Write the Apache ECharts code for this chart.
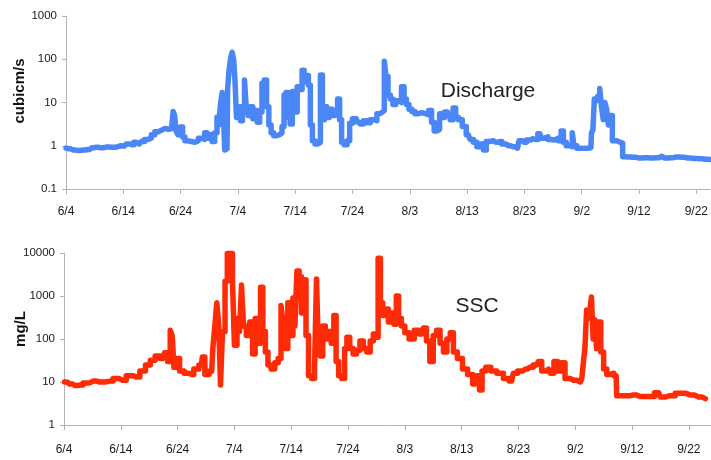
<!DOCTYPE html>
<html>
<head>
<meta charset="utf-8">
<title>Discharge and SSC</title>
<script src="https://cdn.jsdelivr.net/npm/echarts@6/dist/echarts.min.js"></script>
<style>
  html, body { margin: 0; padding: 0; background: #fff; }
  #chart { width: 711px; height: 460px; }
</style>
</head>
<body>
<div id="chart"></div>
<script>
// Date tick labels, one every 10 days starting 6/4 (day 0)
const dateLabels = ['6/4', '6/14', '6/24', '7/4', '7/14', '7/24', '8/3', '8/13', '8/23', '9/2', '9/12', '9/22'];

// Discharge (cubic m/s): day offset from 6/4 and value
const qDays = [
  0.0, 0.5, 1.2, 2.0, 3.0, 3.8, 4.5, 5.2, 6.0, 7.0, 8.0, 9.0, 9.6, 10.2, 10.8, 11.5, 12.2, 12.8, 13.4, 14.0,
  14.6, 15.2, 15.8, 16.4, 17.0, 17.6, 18.2, 18.6, 18.8, 19.1, 19.3, 19.7, 20.2, 20.5, 21.0, 21.6, 22.2, 22.8, 23.4, 24.0,
  24.4, 24.8, 25.3, 25.7, 26.2, 26.5, 26.8, 27.1, 27.4, 27.6, 27.8, 28.1, 28.3, 28.6, 28.9, 29.1, 29.4, 29.6, 29.9, 30.3,
  30.6, 31.0, 31.3, 31.6, 32.0, 32.4, 32.8, 33.2, 33.6, 34.0, 34.4, 34.8, 35.2, 35.6, 36.0, 36.5, 37.0, 37.5, 37.9, 38.2,
  38.6, 38.9, 39.3, 39.7, 40.1, 40.6, 41.0, 41.4, 41.7, 42.1, 42.5, 42.8, 43.2, 43.7, 44.2, 44.6, 44.9, 45.3, 45.7, 46.2,
  46.7, 47.2, 47.6, 47.9, 48.3, 48.8, 49.3, 49.7, 50.3, 51.0, 51.6, 52.2, 52.8, 53.4, 54.0, 54.5, 55.0, 55.4, 55.7, 56.0,
  56.4, 56.8, 57.3, 57.8, 58.3, 58.8, 59.2, 59.6, 60.1, 60.6, 61.2, 61.8, 62.4, 63.0, 63.6, 64.0, 64.5, 65.0, 65.4, 65.8,
  66.3, 66.8, 67.3, 67.8, 68.2, 68.8, 69.5, 70.2, 70.8, 71.4, 72.0, 72.6, 73.1, 73.6, 74.2, 75.0, 75.7, 76.4, 77.2, 78.0,
  78.8, 79.3, 80.0, 80.7, 81.4, 82.0, 82.7, 83.2, 83.8, 84.4, 85.0, 85.6, 86.2, 86.6, 87.0, 87.6, 88.2, 88.5, 88.8, 89.5,
  90.3, 91.0, 91.6, 91.8, 92.1, 92.3, 92.6, 93.0, 93.3, 93.6, 93.9, 94.2, 94.5, 94.8, 95.2, 95.5, 96.0, 96.4, 97.0, 97.3,
  98.0, 99.0, 100.0, 101.0, 102.0, 103.0, 104.0, 104.5, 105.5, 106.5, 107.5, 108.5, 109.5, 110.5, 111.5, 112.4
];
const qValues = [
  0.88, 0.85, 0.80, 0.78, 0.80, 0.82, 0.90, 0.92, 0.90, 0.93, 0.92, 0.95, 1.0, 0.98, 1.1, 1.05, 1.2, 1.1, 1.25, 1.4,
  1.5, 1.8, 2.1, 2.3, 2.5, 2.4, 2.5, 2.7, 6.2, 5.0, 2.2, 1.8, 2.7, 1.6, 1.3, 1.25, 1.2, 1.3, 1.5, 1.4,
  2.0, 1.5, 1.8, 1.25, 2.0, 4.6, 3.0, 9.0, 17, 4.0, 0.8, 0.85, 20, 55, 110, 145, 100, 30, 4.5, 8,
  3.8, 6, 33, 8, 5, 8, 4.2, 6.5, 3.5, 6, 28, 33, 8, 3, 2, 1.7, 1.8, 2.0, 2.8, 15,
  17, 4.5, 3.2, 18, 6, 23, 20, 56, 30, 42, 25, 3, 1.3, 1.1, 1.2, 43, 4, 8, 4.5, 7,
  5, 6, 12, 4, 1.2, 1.05, 1.3, 3.3, 4.2, 3.6, 3.2, 3.8, 3.4, 4.0, 3.8, 5.5, 6, 6.5, 90, 40,
  15, 12, 9, 11, 10, 23, 12, 9, 7, 6.2, 5.5, 5.8, 5.5, 5.2, 6.5, 3.5, 2.2, 2.4, 5.5, 4.5,
  6, 5, 4, 7.5, 4.5, 4, 2.8, 1.8, 1.4, 1.2, 0.95, 1.1, 0.8, 1.25, 1.3, 1.2, 1.25, 1.1, 1.0, 0.95,
  0.88, 1.3, 1.2, 1.35, 1.45, 1.4, 1.9, 1.5, 1.6, 1.4, 1.35, 1.5, 1.3, 2.2, 1.2, 1.0, 0.95, 2.0, 1.0, 0.88,
  0.87, 0.88, 0.9, 2.0, 2.3, 12, 11, 14, 21, 8, 4, 10, 7, 3, 5, 1.3, 1.3, 1.2, 1.15, 0.56,
  0.55, 0.54, 0.52, 0.53, 0.52, 0.53, 0.57, 0.52, 0.53, 0.55, 0.54, 0.52, 0.51, 0.50, 0.49, 0.48
];

// Suspended sediment concentration (mg/L): day offset from 6/4 and value
const sscDays = [
  0.1, 1.0, 1.9, 2.8, 3.9, 5.1, 6.3, 8.1, 9.2, 10.3, 11.6, 12.8, 13.9, 14.8, 15.6, 16.5, 17.4, 18.0, 18.5, 18.9,
  19.2, 19.5, 20.0, 20.7, 21.6, 22.4, 23.3, 24.2, 24.5, 25.1, 26.0, 26.4, 26.7, 27.1, 27.4, 27.7, 28.1, 28.6, 28.9, 29.5,
  29.8, 30.2, 30.7, 31.1, 31.4, 31.8, 32.4, 33.0, 33.4, 33.9, 34.4, 34.8, 35.2, 35.7, 36.1, 36.8, 37.4, 38.0, 38.4, 38.7,
  39.2, 39.6, 40.1, 40.5, 40.8, 41.2, 41.6, 42.0, 42.4, 42.8, 43.3, 43.9, 44.3, 44.6, 44.9, 45.3, 45.8, 46.2, 46.8, 47.3,
  47.7, 48.1, 48.6, 49.2, 49.6, 50.0, 50.6, 51.2, 51.8, 52.4, 53.0, 53.6, 54.2, 54.7, 55.1, 55.5, 55.9, 56.3, 56.8, 57.4,
  57.9, 58.3, 58.7, 59.1, 59.7, 60.3, 61.2, 62.1, 63.0, 63.5, 64.1, 64.7, 65.3, 65.9, 66.5, 67.1, 67.7, 68.3, 68.8, 69.7,
  70.6, 71.5, 72.4, 72.9, 73.4, 73.8, 74.7, 75.6, 76.8, 77.9, 78.8, 79.4, 80.3, 81.2, 82.0, 83.2, 83.8, 84.4, 85.3, 85.9,
  86.6, 87.2, 87.9, 88.5, 89.7, 90.9, 91.4, 91.5, 91.9, 92.1, 92.5, 92.7, 93.0, 93.3, 93.6, 93.9, 94.3, 94.7, 95.3, 95.8,
  96.4, 97.2, 97.4, 99.1, 100.2, 101.4, 103.2, 104.7, 105.2, 106.7, 108.5, 110.2, 111.7, 112.9
];
const sscValues = [
  10, 9, 8.3, 8.5, 9.5, 10.5, 10, 10.5, 12, 11, 14, 13, 18, 25, 32, 40, 35, 48, 30, 160,
  120, 22, 35, 18, 16, 15, 20, 25, 38, 15, 18, 60, 200, 700, 200, 8.5, 150, 2200, 9800, 9800,
  2500, 72, 300, 150, 1800, 200, 120, 250, 45, 300, 80, 1600, 150, 50, 25, 20, 28, 35, 600, 250,
  60, 700, 120, 900, 200, 3800, 2800, 400, 2400, 120, 14, 12, 20, 2500, 80, 40, 200, 100, 150, 80,
  350, 30, 14, 12, 60, 110, 60, 45, 55, 90, 60, 50, 90, 130, 110, 7500, 700, 350, 500, 250,
  400, 220, 1000, 300, 200, 140, 100, 160, 130, 180, 90, 30, 120, 160, 80, 50, 100, 140, 50, 35,
  20, 15, 9, 14, 6.5, 18, 22, 18, 16, 12, 10.5, 16, 18, 20, 22, 25, 30, 18, 20, 16,
  30, 18, 28, 12, 11, 10, 12, 30, 60, 470, 300, 500, 950, 100, 280, 60, 250, 50, 20, 15,
  16, 14, 4.8, 4.8, 5.0, 4.6, 4.6, 5.6, 4.5, 4.8, 5.5, 5.0, 4.5, 4.1
];

const pair = (xs, ys) => xs.map((d, i) => [d, ys[i]]);

const axisGray = '#b3b3b3';
const labelColor = '#1a1a1a';

function dateFormatter(v) {
  const i = Math.round(v / 10);
  return Math.abs(v - i * 10) < 1e-6 && dateLabels[i] ? dateLabels[i] : '';
}
function logFormatter(v) {
  return String(Number(v.toPrecision(6)));
}

function xAxisFor(gridIndex, max, margin) {
  return {
    type: 'value', gridIndex, min: 0, max, interval: 10,
    axisLine: { lineStyle: { color: axisGray, width: 1 } },
    axisTick: { show: true, length: 5, lineStyle: { color: axisGray } },
    axisLabel: { formatter: dateFormatter, color: labelColor, fontFamily: 'Liberation Sans, Arial, sans-serif', fontSize: 12, margin, showMaxLabel: false },
    splitLine: { show: false }
  };
}
function yAxisFor(gridIndex, min, max) {
  return {
    type: 'log', logBase: 10, gridIndex, min, max,
    axisLine: { show: true, lineStyle: { color: axisGray, width: 1 } },
    axisTick: { show: true, length: 4, lineStyle: { color: axisGray } },
    axisLabel: { formatter: logFormatter, color: labelColor, fontFamily: 'Liberation Sans, Arial, sans-serif', fontSize: 11.5, margin: 9 },
    splitLine: { show: false },
    minorTick: { show: false }
  };
}

// Stepped record lines, drawn thick like a dense logger trace
function hydroSeries(name, xi, days, values, color) {
  return {
    name, type: 'line', xAxisIndex: xi, yAxisIndex: xi,
    data: pair(days, values), showSymbol: false, symbol: 'none', step: 'middle',
    lineStyle: { color, width: 5.5, join: 'round', cap: 'round' }, clip: false
  };
}

const chart = echarts.init(document.getElementById('chart'), null, { renderer: 'canvas' });
chart.setOption({
  backgroundColor: '#fff',
  animation: false,
  grid: [
    { left: 66, top: 16, width: 645, height: 173 },
    { left: 64, top: 253, width: 647, height: 172 }
  ],
  xAxis: [xAxisFor(0, 112.4, 17), xAxisFor(1, 113.9, 19)],
  yAxis: [yAxisFor(0, 0.1, 1000), yAxisFor(1, 1, 10000)],
  series: [
    hydroSeries('Discharge', 0, qDays, qValues, '#4a86f5'),
    hydroSeries('SSC', 1, sscDays, sscValues, '#ff2a06')
  ],
  graphic: [
    { type: 'text', x: 20, y: 91, rotation: Math.PI / 2,
      style: { text: 'cubicm/s', font: 'bold 15px "Liberation Sans", Arial, sans-serif', fill: '#111', textAlign: 'center', textVerticalAlign: 'middle' } },
    { type: 'text', x: 21, y: 329, rotation: Math.PI / 2,
      style: { text: 'mg/L', font: 'bold 15px "Liberation Sans", Arial, sans-serif', fill: '#111', textAlign: 'center', textVerticalAlign: 'middle' } },
    { type: 'text', x: 488, y: 91,
      style: { text: 'Discharge', font: '21px "Liberation Sans", Arial, sans-serif', fill: '#222', textAlign: 'center', textVerticalAlign: 'middle' } },
    { type: 'text', x: 477, y: 306,
      style: { text: 'SSC', font: '21px "Liberation Sans", Arial, sans-serif', fill: '#222', textAlign: 'center', textVerticalAlign: 'middle' } }
  ]
});
</script>
</body>
</html>
